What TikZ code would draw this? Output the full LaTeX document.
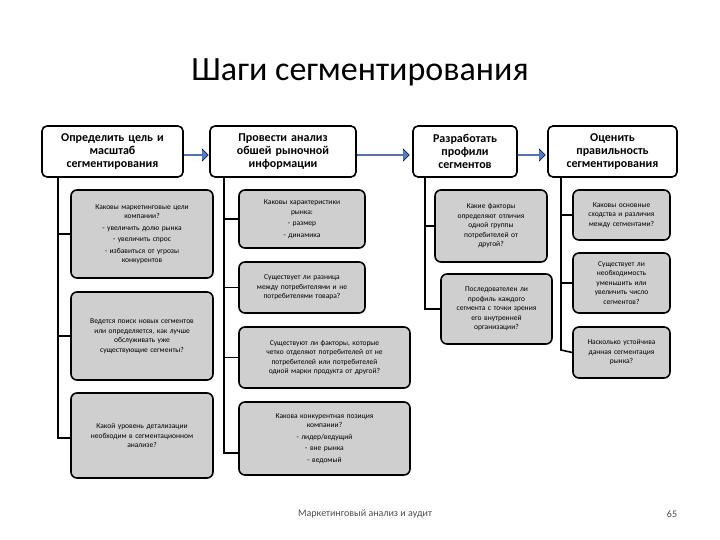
\documentclass[tikz,border=0pt]{standalone}
\usepackage{fontspec}
\setmainfont{Carlito}
\usetikzlibrary{shapes.arrows}
\begin{document}
\begin{tikzpicture}[x=1pt,y=-1pt,
 hbox/.style={draw=black,line width=1.6pt,rounded corners=5pt,fill=white,align=center,font=\fontsize{12}{13}\selectfont\bfseries,inner sep=2pt},
 gbox/.style={draw=black,line width=1.6pt,rounded corners=6pt,fill=gray!38,align=center,font=\fontsize{7.5}{9.5}\selectfont,inner sep=2pt},
 spine/.style={line width=1.6pt},
 barrow/.style={single arrow,draw=blue!40!black,fill={rgb,255:red,79;green,129;blue,189},minimum height=26pt,minimum width=12pt,single arrow head extend=2pt,inner sep=0pt}]
\useasboundingbox (0,0) rectangle (720,540);
\node[font=\fontsize{34}{38}\selectfont] (title) at (360,72) {Шаги сегментирования};
% headers
\node[hbox,minimum width=141pt,minimum height=51pt,text width=135pt] (h1) at (112.5,151.5) {Определить цель и\\масштаб\\сегментирования};
\node[hbox,minimum width=146pt,minimum height=51pt,text width=140pt] (h2) at (283,151.5) {Провести анализ\\обшей рыночной\\информации};
\node[hbox,minimum width=104pt,minimum height=51pt,text width=98pt] (h3) at (465,151.5) {Разработать\\профили\\сегментов};
\node[hbox,minimum width=129pt,minimum height=51pt,text width=125pt] (h4) at (612.5,151.5) {Оценить\\правильность\\сегментирования};
\node[barrow,minimum height=24pt] (a1) at (196,155) {};
\node[barrow,minimum height=52pt] (a2) at (383,155) {};
\node[barrow,minimum height=28pt] (a3) at (531,155) {};
% col1
\node[gbox,minimum width=142pt,minimum height=88pt,text width=136pt] (c11) at (142,234) {Каковы маркетинговые цели\\компании?\\[2pt]- увеличить долю рынка\\[2pt]- увеличить спрос\\[2pt]- избавиться от угрозы\\конкурентов};
\node[gbox,minimum width=142pt,minimum height=88pt,text width=136pt] (c12) at (142,336) {Ведется поиск новых сегментов\\или определяется, как лучше\\обслуживать уже\\существующие сегменты?};
\node[gbox,minimum width=142pt,minimum height=85pt,text width=136pt] (c13) at (142,435.5) {Какой уровень детализации\\необходим в сегментационном\\анализе?};
% col2
\node[gbox,minimum width=126pt,minimum height=58pt,text width=120pt] (c21) at (302,219) {Каковы характеристики\\рынка:\\[2pt]- размер\\[2pt]- динамика};
\node[gbox,minimum width=126pt,minimum height=51pt,text width=120pt] (c22) at (302,287.5) {Существует ли разница\\между потребителями и не\\потребителями товара?};
\node[gbox,minimum width=171pt,minimum height=61pt,text width=165pt] (c23) at (324.5,357.5) {Существуют ли факторы, которые\\четко отделяют потребителей от не\\потребителей или потребителей\\одной марки продукта от другой?};
\node[gbox,minimum width=171pt,minimum height=73pt,text width=165pt] (c24) at (324.5,438.5) {Какова конкурентная позиция\\компании?\\[2pt]- лидер/ведущий\\[2pt]- вне рынка\\[2pt]- ведомый};
% col3
\node[gbox,minimum width=112pt,minimum height=72pt,text width=106pt] (c31) at (491,226) {Какие факторы\\определяют отличия\\одной группы\\потребителей от\\другой?};
\node[gbox,minimum width=111pt,minimum height=70pt,text width=107pt] (c32) at (496.5,309) {Последователен ли\\профиль каждого\\сегмента с точки зрения\\его внутренней\\организации?};
% col4
\node[gbox,minimum width=97pt,minimum height=50pt,text width=93pt] (c41) at (621.5,215) {Каковы основные\\сходства и различия\\между сегментами?};
\node[gbox,minimum width=97pt,minimum height=60pt,text width=93pt] (c42) at (621.5,283) {Существует ли\\необходимость\\уменьшить или\\увеличить число\\сегментов?};
\node[gbox,minimum width=97pt,minimum height=51pt,text width=93pt] (c43) at (621.5,352.5) {Насколько устойчива\\данная сегментация\\рынка?};
% spines
\coordinate (s1) at (58,438);
\coordinate (s2) at (224,453);
\coordinate (s3) at (425,309);
\coordinate (s4) at (561,350);
\begin{scope}[spine]
\draw (h1.south -| s1) -- (s1) -- (c13.west |- s1);
\draw (c11.west) -- (c11.west -| s1);
\draw (c12.west) -- (c12.west -| s1);
\draw (h2.south -| s2) -- (s2) -- (c24.west |- s2);
\draw (c21.west) -- (c21.west -| s2);
\draw (c22.west) -- (c22.west -| s2);
\draw (c23.west) -- (c23.west -| s2);
\draw (h3.south -| s3) -- (s3) -- (c32.west);
\draw (c31.west) -- (c31.west -| s3);
\draw (h4.south -| s4) -- (s4) -- (c43.west);
\draw (c41.west) -- (c41.west -| s4);
\draw (c42.west) -- (c42.west -| s4);
\end{scope}
\node[font=\fontsize{10}{12}\selectfont,text=black!70] (foot) at (365,514) {Маркетинговый анализ и аудит};
\node[font=\fontsize{10}{12}\selectfont,text=black!70] (pg) at (672,514) {65};
\end{tikzpicture}
\end{document}
